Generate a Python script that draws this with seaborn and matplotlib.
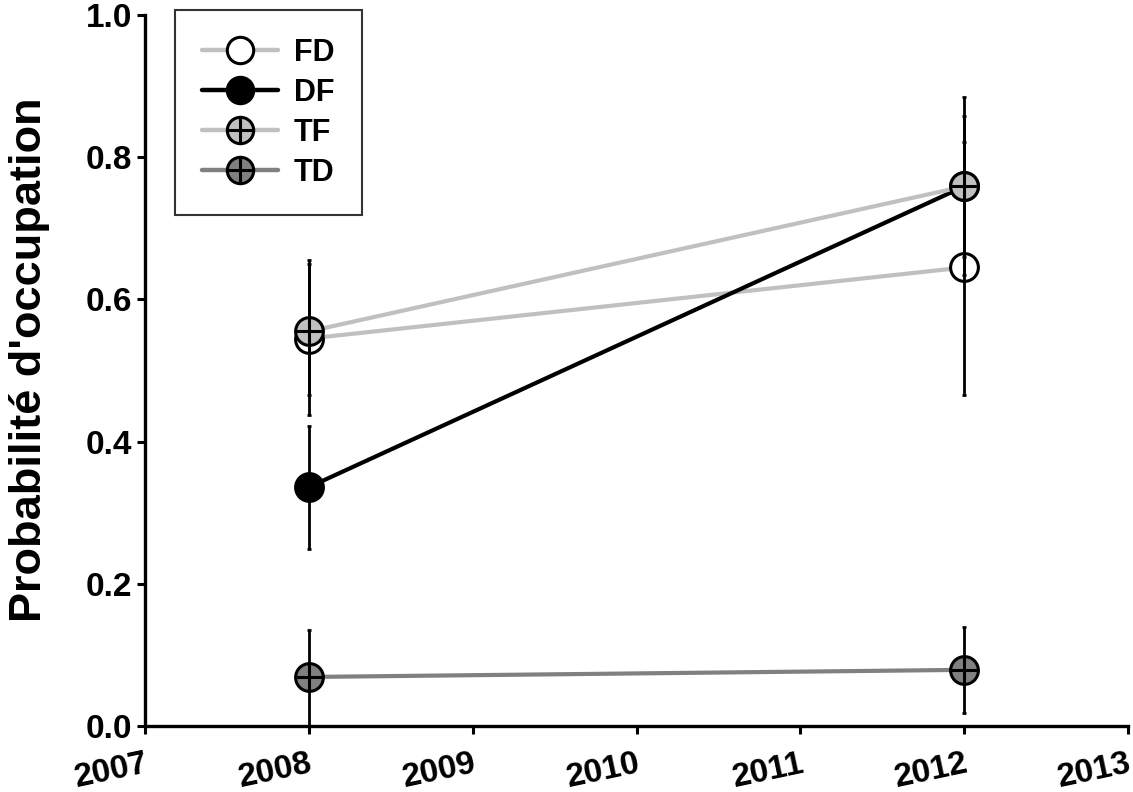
import seaborn as sns
import pandas as pd
import matplotlib.pyplot as plt
from matplotlib.lines import Line2D

sns.set_style("ticks")
plt.rcParams["font.family"] = ["Liberation Sans", "DejaVu Sans"]
plt.rcParams["font.weight"] = "bold"
plt.rcParams["text.color"] = "black"
plt.rcParams["axes.labelcolor"] = "black"
plt.rcParams["xtick.color"] = "black"
plt.rcParams["ytick.color"] = "black"
plt.rcParams["axes.edgecolor"] = "black"

years = [2008, 2012]
groups = ["FD", "DF", "TF", "TD"]
# occupancy probability + lower/upper bounds
fd = [0.545, 0.645]
fd_lo = [0.437, 0.466]
fd_hi = [0.655, 0.821]
df_ = [0.336, 0.759]
df_lo = [0.249, 0.660]
df_hi = [0.422, 0.858]
tf = [0.555, 0.759]
tf_lo = [0.465, 0.634]
tf_hi = [0.650, 0.885]
td = [0.069, 0.079]
td_lo = [0.0, 0.018]
td_hi = [0.135, 0.139]

vals = {"FD": fd, "DF": df_, "TF": tf, "TD": td}
lows = {"FD": fd_lo, "DF": df_lo, "TF": tf_lo, "TD": td_lo}
highs = {"FD": fd_hi, "DF": df_hi, "TF": tf_hi, "TD": td_hi}

line_col = {"FD": "#c0c0c0", "DF": "black", "TF": "#c0c0c0", "TD": "#808080"}
face_col = {"FD": "white", "DF": "black", "TF": "#c0c0c0", "TD": "#808080"}
cross = {"FD": False, "DF": False, "TF": True, "TD": True}

data = pd.DataFrame([(g, y, v) for g in groups for y, v in zip(years, vals[g])],
                    columns=["group", "year", "prob"])

fig = plt.figure(figsize=(11.33, 7.92), dpi=100)
ax = fig.add_axes([0.128, 0.0833, 0.8676, 0.8977])

handles = []
for g in groups:
    sub = data[data.group == g]
    sns.lineplot(x="year", y="prob", data=sub, ax=ax, color=line_col[g], lw=3,
                 marker="o", markersize=20, markerfacecolor=face_col[g],
                 markeredgecolor="black", markeredgewidth=2.2, zorder=3)
    h = Line2D([], [], color=line_col[g], lw=3.2, marker="o", markersize=19,
               markerfacecolor=face_col[g], markeredgecolor="black", markeredgewidth=2.2)
    if cross[g]:
        ax.plot(sub.year, sub.prob, ls="none", marker="+", markersize=20,
                mew=2.2, color="black", zorder=4)
        h = (h, Line2D([], [], ls="none", marker="+", markersize=19, mew=2.2, color="black"))
    handles.append(h)

for g in groups:
    v = vals[g]
    yerr = [[a - b for a, b in zip(v, lows[g])], [b - a for a, b in zip(v, highs[g])]]
    ax.errorbar(years, v, yerr=yerr, fmt="none", ecolor="black", elinewidth=2,
                capsize=1.5, capthick=2, zorder=5)

ax.set_xlim(2007, 2013)
ax.set_ylim(0, 1.0)
ax.set_xticks(range(2007, 2014))
ax.set_yticks([0, 0.2, 0.4, 0.6, 0.8, 1.0])
ax.set_yticklabels(["0.0", "0.2", "0.4", "0.6", "0.8", "1.0"])
ax.set_xticklabels([str(y) for y in range(2007, 2014)], rotation=12, ha="right",
                   rotation_mode="anchor")
ax.tick_params(labelsize=24, width=2.2, length=6, direction="out")
ax.tick_params(axis="x", pad=10)
for lab in ax.get_xticklabels() + ax.get_yticklabels():
    lab.set_fontweight("bold")
ax.set_xlabel("")
ax.set_ylabel("Probabilité d'occupation", fontsize=32.5, fontweight="bold")
ax.yaxis.set_label_coords(-0.097, 0.515)
sns.despine(ax=ax)
for s in ["left", "bottom"]:
    ax.spines[s].set_linewidth(2.4)
ax.spines["left"].set_bounds(0, 1.0)

leg = ax.legend(handles, groups, loc="upper left", bbox_to_anchor=(0.03, 1.007),
                fontsize=22, frameon=True, fancybox=False, edgecolor="black",
                handlelength=2.5, labelspacing=0.33, borderpad=0.9, handletextpad=0.5,
                borderaxespad=0)
leg.get_frame().set_linewidth(1.5)
for t in leg.get_texts():
    t.set_fontweight("bold")

plt.savefig("out.png", dpi=100)
